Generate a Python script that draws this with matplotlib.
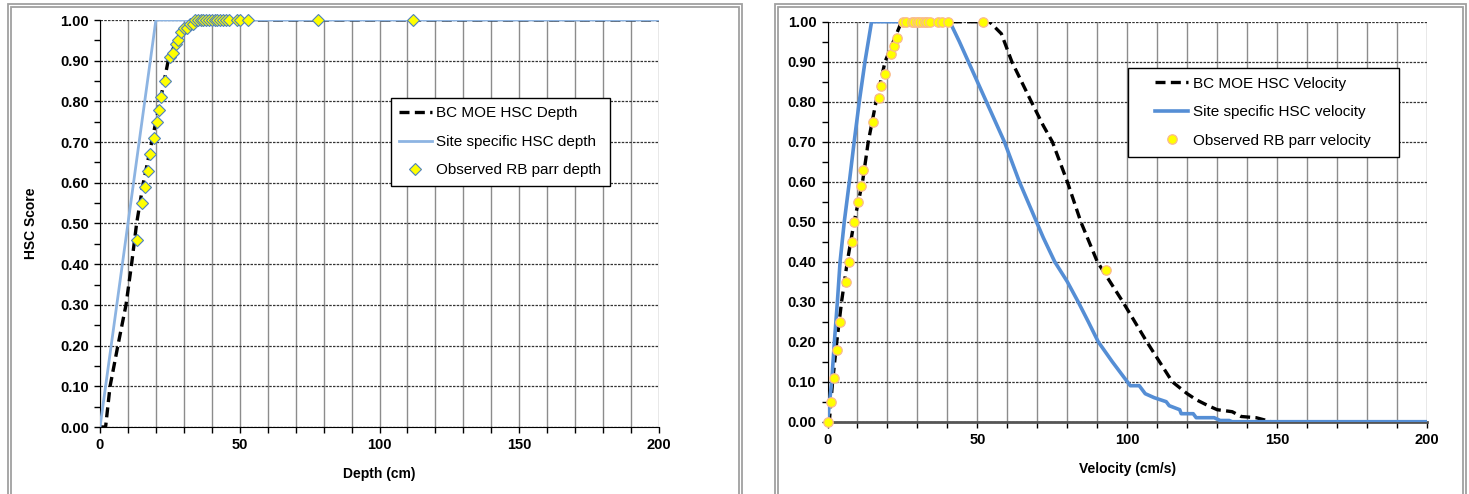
import numpy as np
import matplotlib.pyplot as plt
from matplotlib.patches import Rectangle
from matplotlib.ticker import MultipleLocator, FormatStrFormatter

plt.rcParams['font.family'] = ['Liberation Sans', 'DejaVu Sans']

# ------------------------------------------------------------
# datos: profundidad
# ------------------------------------------------------------
depth_bc_x = [0, 2, 3.6, 6.4, 9.3, 11.3, 13.1, 15.5, 18.5, 21.5, 24.4, 27.4, 30.0, 33.3, 200]
depth_bc_y = [0, 0, 0.1, 0.2, 0.3, 0.4, 0.5, 0.6, 0.7, 0.8, 0.9, 0.95, 0.98, 1.0, 1.0]

depth_site_x = [0, 20, 200]
depth_site_y = [0, 1.0, 1.0]

depth_obs_x = [13.1, 14.9, 16.1, 17.1, 18.0, 19.2, 20.3, 21.1, 21.9, 23.3, 25.0, 26.1,
               27.2, 28.0, 29.0, 30.2, 31.2, 32.2, 33.1, 34, 35, 36, 37, 38, 39, 40,
               41, 42, 43, 44, 45, 46, 49, 50, 53, 78, 112]
depth_obs_y = [0.46, 0.55, 0.59, 0.63, 0.67, 0.71, 0.75, 0.78, 0.81, 0.85, 0.91, 0.92,
               0.94, 0.95, 0.97, 0.98, 0.98, 0.99, 0.99, 1, 1, 1, 1, 1, 1, 1,
               1, 1, 1, 1, 1, 1, 1, 1, 1, 1, 1]

# ------------------------------------------------------------
# datos: velocidad
# ------------------------------------------------------------
vel_bc_x = [0, 0.6, 1.7, 3.1, 4.7, 6.6, 8.9, 11.7, 13.6, 16.2, 19.2, 24.7, 54, 58,
            61.5, 68, 72, 75, 80, 84.5, 90, 98.5, 106.5, 115, 120, 123, 127, 130,
            135, 138, 143, 148, 200]
vel_bc_y = [0, 0, 0.1, 0.2, 0.3, 0.4, 0.5, 0.6, 0.7, 0.8, 0.9, 1.0, 1.0, 0.97,
            0.9, 0.8, 0.74, 0.7, 0.6, 0.5, 0.4, 0.3, 0.2, 0.1, 0.07, 0.055, 0.04, 0.03,
            0.025, 0.013, 0.01, 0.0, 0.0]

vel_site_x = [0, 1.4, 2.3, 3.3, 4.2, 5.6, 7.3, 8.9, 10.6, 12.5, 14.7, 40.8, 44, 47,
              50, 53, 56, 59, 64, 69.7, 72, 75.8, 80, 83.6, 87, 90.3, 95, 100, 101,
              104, 106, 109, 113, 114, 117.5, 118, 122, 123, 129, 131, 134, 135, 200]
vel_site_y = [0, 0.1, 0.2, 0.3, 0.4, 0.5, 0.6, 0.7, 0.8, 0.9, 1.0, 1.0, 0.95, 0.9,
              0.85, 0.8, 0.75, 0.7, 0.6, 0.5, 0.46, 0.4, 0.35, 0.3, 0.25, 0.2, 0.15, 0.1, 0.09,
              0.09, 0.07, 0.06, 0.05, 0.04, 0.03, 0.02, 0.02, 0.01, 0.01, 0.003, 0.003, 0, 0]

vel_obs_x = [0, 1.1, 2.1, 3.1, 4.2, 6.1, 7.2, 8.2, 8.9, 10.1, 11.1, 12.0, 15.1, 17.2,
             18.0, 19.2, 21.1, 22.1, 23.1, 25.3, 26.2, 28.1, 28.9, 29.7, 30.6, 31.5,
             32.4, 33.3, 34.2, 36.9, 38.1, 40.1, 51.9, 92.8]
vel_obs_y = [0, 0.05, 0.11, 0.18, 0.25, 0.35, 0.40, 0.45, 0.50, 0.55, 0.59, 0.63, 0.75,
             0.81, 0.84, 0.87, 0.92, 0.94, 0.96, 1, 1, 1, 1, 1, 1, 1, 1, 1, 1, 1, 1, 1,
             1, 0.38]

W, H = 1469, 494
fig = plt.figure(figsize=(W / 100, H / 100), dpi=100)


def px_axes(x0, x1, ytop, ybot):
    return fig.add_axes([x0 / W, (H - ybot) / H, (x1 - x0) / W, (ybot - ytop) / H])


def estilo(ax, bottom_color):
    ax.set_xlim(0, 200)
    ax.set_ylim(0, 1.0)
    ax.xaxis.set_major_locator(MultipleLocator(50))
    ax.xaxis.set_minor_locator(MultipleLocator(10))
    ax.yaxis.set_major_locator(MultipleLocator(0.1))
    ax.yaxis.set_minor_locator(MultipleLocator(0.05))
    ax.yaxis.set_major_formatter(FormatStrFormatter('%.2f'))
    ax.grid(True, which='both', axis='x', color='#8c8c8c', lw=1.0, ls='-')
    ax.grid(True, which='major', axis='y', color='#333333', lw=0.9, ls=(0, (2, 1)))
    ax.set_axisbelow(True)
    ax.spines['top'].set_visible(False)
    ax.spines['right'].set_visible(False)
    ax.spines['left'].set_color('black')
    ax.spines['bottom'].set_color(bottom_color)
    ax.tick_params(which='both', direction='out', length=4, width=1, color='black')
    ax.tick_params(axis='both', labelsize=10.5, pad=4)
    for lb in ax.get_xticklabels() + ax.get_yticklabels():
        lb.set_fontweight('bold')


# ------------------------------------------------------------
# grafica de profundidad
# ------------------------------------------------------------
ax1 = px_axes(100, 659, 20, 427)
estilo(ax1, 'black')
ax1.plot(depth_bc_x, depth_bc_y, color='black', lw=2.4, ls=(0, (3, 1.6)),
         label='BC MOE HSC Depth', zorder=3)
ax1.plot(depth_site_x, depth_site_y, color='#8db4e2', lw=2.0,
         label='Site specific HSC depth', zorder=3)
ax1.plot(depth_obs_x, depth_obs_y, ls='none', marker='D', ms=5.8, mfc='#ffff00',
         mec='#4f81bd', mew=0.8, label='Observed RB parr depth', zorder=4, clip_on=False)
ax1.set_xlabel('Depth (cm)', fontsize=10, fontweight='bold', labelpad=11)
ax1.set_ylabel('HSC Score', fontsize=10, fontweight='bold', labelpad=16)
leg1 = ax1.legend(loc='upper left', bbox_to_anchor=(0.5206, 0.8084), fontsize=11,
                  frameon=True, fancybox=False, edgecolor='black', framealpha=1,
                  handlelength=2.1, labelspacing=0.95, borderpad=0.55,
                  handletextpad=0.3, borderaxespad=0)
leg1.get_frame().set_linewidth(1.0)

# ------------------------------------------------------------
# grafica de velocidad
# ------------------------------------------------------------
ax2 = px_axes(827.5, 1427, 21.7, 421.7)
estilo(ax2, '#555555')
ax2.spines['bottom'].set_linewidth(2)
ax2.plot(vel_bc_x, vel_bc_y, color='black', lw=2.4, ls=(0, (3, 1.6)),
         label='BC MOE HSC Velocity', zorder=3)
ax2.plot(vel_site_x, vel_site_y, color='#558ed5', lw=2.6,
         label='Site specific HSC velocity', zorder=3)
ax2.plot(vel_obs_x, vel_obs_y, ls='none', marker='o', ms=6.8, mfc='#ffff00',
         mec='#fab98f', mew=0.9, label='Observed RB parr velocity', zorder=4, clip_on=False)
ax2.set_xlabel('Velocity (cm/s)', fontsize=10, fontweight='bold', labelpad=11)
# caja de la leyenda mas ancha que su contenido
ax2.add_patch(Rectangle((0.501, 0.662), 0.452, 0.222, transform=ax2.transAxes,
                        fc='white', ec='black', lw=1.0, zorder=5))
ax2.legend(loc='upper left', bbox_to_anchor=(0.532, 0.884), fontsize=11,
           frameon=False, handlelength=2.2, labelspacing=0.95, borderpad=0.55,
           handletextpad=0.3, borderaxespad=0)

# ------------------------------------------------------------
# marcos grises
# ------------------------------------------------------------
for (x0, x1) in [(8, 742), (775, 1466)]:
    for off in (0, 3):
        fig.add_artist(Rectangle(((x0 + off) / W, -0.1), (x1 - x0 - 2 * off) / W,
                                 (H - 4 - off) / H + 0.1, transform=fig.transFigure,
                                 fill=False, ec='#a0a0a0', lw=1.3))

fig.savefig('out.png', dpi=100)
